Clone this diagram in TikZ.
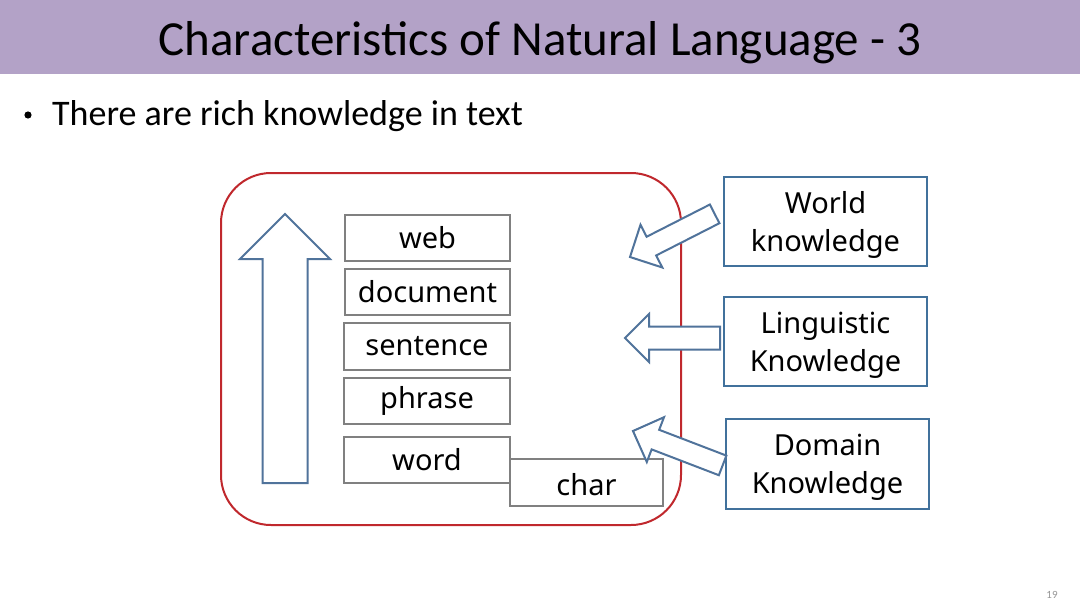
\documentclass[tikz,border=0pt]{standalone}
\usepackage{fontspec}
\setmainfont{Carlito}
\newfontfamily\boxfont{Noto Sans}
\definecolor{titlebg}{RGB}{179,162,199}
\definecolor{redline}{RGB}{192,40,45}
\definecolor{blueline}{RGB}{65,113,156}
\definecolor{arrowblue}{RGB}{80,115,155}
\definecolor{grayline}{RGB}{128,128,128}
\definecolor{pagegray}{RGB}{150,150,150}
\tikzset{
  levelbox/.style={draw=grayline, line width=1.2pt, fill=white, inner sep=0pt,
    font=\boxfont\fontsize{29}{33}\selectfont},
  knowbox/.style={draw=blueline, line width=2pt, fill=white, inner sep=0pt, align=center,
    minimum width=203, minimum height=89,
    font=\boxfont\fontsize{29}{38}\selectfont},
  blockarrow/.style={draw=arrowblue, line width=2pt, fill=white, line join=miter},
}
\newcommand{\myblockarrow}[5]{% tip, angle, length, shaft half, head half
  \begin{scope}[shift={(#1)}, rotate=#2]
    \draw[blockarrow] (0,0) -- (-#5,#5) -- (-#5,#4) -- (-#3,#4) -- (-#3,-#4) -- (-#5,-#4) -- (-#5,-#5) -- cycle;
  \end{scope}}
\newcommand{\lowstrut}{\rule{0pt}{28pt}}
\begin{document}
\begin{tikzpicture}[x=1pt,y=-1pt]
\useasboundingbox (0,0) rectangle (1080,608);
\fill[white] (0,0) rectangle (1080,608);
% title band
\fill[titlebg] (0,0) rectangle (1080,74);
\node[anchor=base, font=\fontsize{49}{55}\selectfont] (title) at (540,55) {Characteristics of Natural Language - 3};
% bullet
\fill (28,115) circle (3.6);
\node[anchor=base west, inner sep=0pt, font=\fontsize{36}{42}\selectfont] (bullet) at (52,125) {There are rich knowledge in text};
% red container
\draw[redline, line width=2pt, rounded corners=50] (221,173) rectangle (681,525);
% up arrow
\draw[blockarrow] (285,214) -- (330,259) -- (307.5,259) -- (307.5,483) -- (262.5,483) -- (262.5,259) -- (240,259) -- cycle;
% level boxes
\node[levelbox, minimum width=165, minimum height=46] (web) at (427.5,238) {\raisebox{-2pt}{web}};
\node[levelbox, minimum width=165, minimum height=46] (document) at (427.5,292) {\raisebox{-2pt}{document}};
\node[levelbox, minimum width=166, minimum height=47] (sentence) at (427,346.5) {\raisebox{-2pt}{sentence}};
\node[levelbox, minimum width=166, minimum height=46] (phrase) at (427,401) {\raisebox{-2pt}{phrase}};
\node[levelbox, minimum width=166, minimum height=46] (word) at (427,460) {\raisebox{-2pt}{word}};
\node[levelbox, minimum width=153, minimum height=47, text depth=0pt] (char) at (586.5,482.5) {\raisebox{-3pt}{char}};
% knowledge boxes
\node[knowbox] (world) at (825.5,221.5) {\lowstrut World\\knowledge};
\node[knowbox] (ling) at (825.5,341.5) {\lowstrut Linguistic\\Knowledge};
\node[knowbox, minimum height=90] (domain) at (827.5,464) {\lowstrut Domain\\Knowledge};
% block arrows
\myblockarrow{630,257}{207}{95}{10.5}{24}
\myblockarrow{625,338}{180}{95}{11.5}{24}
\myblockarrow{633,431}{159}{96}{10.5}{24}
% page number
\node[text=pagegray, font=\fontsize{11}{13}\selectfont] (pagenum) at (1052,595) {19};
\end{tikzpicture}
\end{document}
